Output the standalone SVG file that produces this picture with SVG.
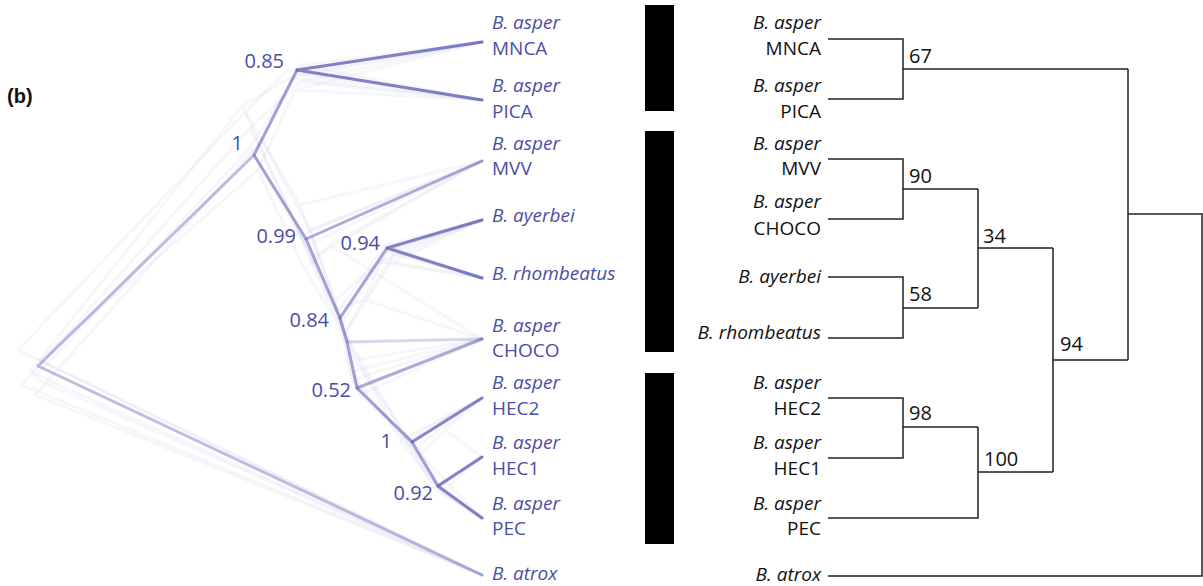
<svg xmlns="http://www.w3.org/2000/svg" width="1203" height="586" viewBox="0 0 1203 586">
<style>
.lab{font-family:"Open Sans","Liberation Sans",sans-serif;font-size:19px;}
.it{font-style:italic;}
.bl{fill:#4b4ea6;}
.bk{fill:#111;}
.num{font-family:"Open Sans","Liberation Sans",sans-serif;font-size:20px;}
.faint{fill:none;stroke:#5a5ab4;stroke-width:3;stroke-opacity:0.05;stroke-linecap:round;}
.m{fill:none;stroke:#5a5ab4;stroke-width:3;stroke-linecap:round;}
.rt{fill:none;stroke:#222;stroke-width:1.5;}
</style>
<rect width="1203" height="586" fill="#fff"/>
<text x="7" y="103" font-family="Liberation Sans, sans-serif" font-size="20" font-weight="bold" fill="#111">(b)</text>

<g id="densitree-connectors">
<path class="faint" d="M30 372 L242 106 M30 372 L482 575 M242 106 L290 78 M290 78 L482 42 M290 78 L482 100 M242 106 L300 205 M300 205 L482 161 M300 205 L335 300 M335 300 L380 262 M380 262 L482 220 M380 262 L482 278 M335 300 L350 372 M350 372 L482 339 M350 372 L405 440 M405 440 L482 398 M405 440 L434 488 M434 488 L482 457 M434 488 L482 518"/>
<path class="faint" d="M22 385 L250 128 M22 385 L482 575 M250 128 L300 82 M300 82 L482 42 M300 82 L482 100 M250 128 L312 258 M312 258 L482 161 M312 258 L345 332 M345 332 L392 262 M392 262 L482 220 M392 262 L482 278 M345 332 L360 395 M360 395 L482 339 M360 395 L418 446 M418 446 L482 398 M418 446 L442 492 M442 492 L482 457 M442 492 L482 518"/>
<path class="faint" d="M40 360 L258 170 M40 360 L482 575 M258 170 L295 90 M295 90 L482 42 M295 90 L482 100 M258 170 L305 270 M305 270 L330 245 M330 245 L482 161 M330 245 L482 339 M305 270 L345 335 M345 335 L388 250 M388 250 L482 220 M388 250 L482 278 M345 335 L400 440 M400 440 L482 398 M400 440 L436 486 M436 486 L482 457 M436 486 L482 518"/>
<path class="faint" d="M18 350 L245 112 M18 350 L482 575 M245 112 L288 70 M288 70 L482 42 M288 70 L482 100 M245 112 L300 235 M300 235 L482 161 M300 235 L332 310 M332 310 L365 300 M365 300 L482 339 M365 300 L395 252 M395 252 L482 220 M395 252 L482 278 M332 310 L408 442 M408 442 L482 398 M408 442 L438 486 M438 486 L482 457 M438 486 L482 518"/>
<path class="faint" d="M35 395 L262 140 M35 395 L482 575 M262 140 L300 65 M300 65 L482 42 M300 65 L482 100 M262 140 L310 230 M310 230 L482 161 M310 230 L338 312 M338 312 L385 245 M385 245 L482 220 M385 245 L482 278 M338 312 L355 360 M355 360 L482 339 M355 360 L420 455 M420 455 L445 430 M445 430 L482 398 M445 430 L482 457 M420 455 L482 518"/>
<path class="faint" d="M34 378 L250 148 M34 378 L482 575 M250 148 L296 74 M296 74 L482 42 M296 74 L482 100 M250 148 L306 246 M306 246 L482 161 M306 246 L342 322 M342 322 L386 252 M386 252 L482 220 M386 252 L482 278 M342 322 L352 380 M352 380 L482 339 M352 380 L410 444 M410 444 L438 488 M410 444 L482 398 M438 488 L482 457 M438 488 L482 518"/>

<path class="m" stroke-opacity="0.4" d="M38 366 L254 155 M38 366 L482 575"/>
<path class="m" stroke-opacity="0.55" d="M254 155 L297 70 M254 155 L306 239 L340 318 L347 342 L357 388 L412 442 L438 486"/>
<path class="m" stroke-opacity="0.75" d="M297 70 L482 42 M297 70 L482 100"/>
<path class="m" stroke-opacity="0.5" d="M306 239 L482 161"/>
<path class="m" stroke-opacity="0.55" d="M340 318 L387 248"/>
<path class="m" stroke-opacity="0.75" d="M387 248 L482 220 M387 248 L482 278"/>
<path class="m" stroke-opacity="0.25" d="M347 342 L482 339"/>
<path class="m" stroke-opacity="0.5" d="M357 388 L482 339"/>
<path class="m" stroke-opacity="0.7" d="M412 442 L482 398 M438 486 L482 457 M438 486 L482 518"/>
</g>

<g id="left-labels">
<g id="L-MNCA"><text class="lab it bl" x="492" y="29">B. asper</text><text class="lab bl" x="492" y="55">MNCA</text></g>
<g id="L-PICA"><text class="lab it bl" x="492" y="92">B. asper</text><text class="lab bl" x="492" y="118">PICA</text></g>
<g id="L-MVV"><text class="lab it bl" x="492" y="150">B. asper</text><text class="lab bl" x="492" y="175">MVV</text></g>
<g id="L-ayerbei"><text class="lab it bl" x="492" y="222">B. ayerbei</text></g>
<g id="L-rhombeatus"><text class="lab it bl" x="492" y="280">B. rhombeatus</text></g>
<g id="L-CHOCO"><text class="lab it bl" x="492" y="332">B. asper</text><text class="lab bl" x="492" y="357">CHOCO</text></g>
<g id="L-HEC2"><text class="lab it bl" x="492" y="389">B. asper</text><text class="lab bl" x="492" y="415">HEC2</text></g>
<g id="L-HEC1"><text class="lab it bl" x="492" y="449">B. asper</text><text class="lab bl" x="492" y="475">HEC1</text></g>
<g id="L-PEC"><text class="lab it bl" x="492" y="510">B. asper</text><text class="lab bl" x="492" y="535">PEC</text></g>
<g id="L-atrox"><text class="lab it bl" x="492" y="580">B. atrox</text></g>
</g>

<g id="left-support" text-anchor="end">
<text class="num bl" x="284" y="68">0.85</text>
<text class="num bl" x="243" y="150">1</text>
<text class="num bl" x="296" y="243">0.99</text>
<text class="num bl" x="380" y="250">0.94</text>
<text class="num bl" x="329" y="327">0.84</text>
<text class="num bl" x="351" y="397">0.52</text>
<text class="num bl" x="392" y="448">1</text>
<text class="num bl" x="433" y="500">0.92</text>
</g>

<g id="bars" fill="#000">
<rect id="bar1" x="645" y="5" width="29" height="106"/>
<rect id="bar2" x="645" y="131" width="29" height="221"/>
<rect id="bar3" x="645" y="373" width="29" height="171"/>
</g>

<g id="right-labels" text-anchor="end">
<g id="R-MNCA"><text class="lab it bk" x="821" y="29">B. asper</text><text class="lab bk" x="821" y="55">MNCA</text></g>
<g id="R-PICA"><text class="lab it bk" x="821" y="92">B. asper</text><text class="lab bk" x="821" y="118">PICA</text></g>
<g id="R-MVV"><text class="lab it bk" x="821" y="150">B. asper</text><text class="lab bk" x="821" y="175">MVV</text></g>
<g id="R-CHOCO"><text class="lab it bk" x="821" y="208">B. asper</text><text class="lab bk" x="821" y="235">CHOCO</text></g>
<g id="R-ayerbei"><text class="lab it bk" x="821" y="283">B. ayerbei</text></g>
<g id="R-rhombeatus"><text class="lab it bk" x="821" y="339">B. rhombeatus</text></g>
<g id="R-HEC2"><text class="lab it bk" x="821" y="389">B. asper</text><text class="lab bk" x="821" y="415">HEC2</text></g>
<g id="R-HEC1"><text class="lab it bk" x="821" y="449">B. asper</text><text class="lab bk" x="821" y="475">HEC1</text></g>
<g id="R-PEC"><text class="lab it bk" x="821" y="510">B. asper</text><text class="lab bk" x="821" y="535">PEC</text></g>
<g id="R-atrox"><text class="lab it bk" x="821" y="581">B. atrox</text></g>
</g>

<g id="right-connectors" class="rt">
<path class="rt" d="M828 39 H903 V99 H828 M903 69 H1128"/>
<path class="rt" d="M828 159 H903 V219 H828 M903 189 H978"/>
<path class="rt" d="M828 277 H903 V338 H828 M903 308 H978"/>
<path class="rt" d="M978 189 V308 M978 248 H1053"/>
<path class="rt" d="M828 398 H903 V458 H828 M903 427 H978"/>
<path class="rt" d="M828 518 H978 V427 M978 472 H1053"/>
<path class="rt" d="M1053 248 V472 M1053 360 H1128"/>
<path class="rt" d="M1128 69 V360 M1128 214 H1202 V576 H828"/>
</g>

<g id="right-support" class="num bk">
<text x="909" y="63">67</text>
<text x="909" y="183">90</text>
<text x="909" y="301">58</text>
<text x="983" y="243">34</text>
<text x="909" y="420">98</text>
<text x="984" y="466">100</text>
<text x="1060" y="351">94</text>
</g>
</svg>
